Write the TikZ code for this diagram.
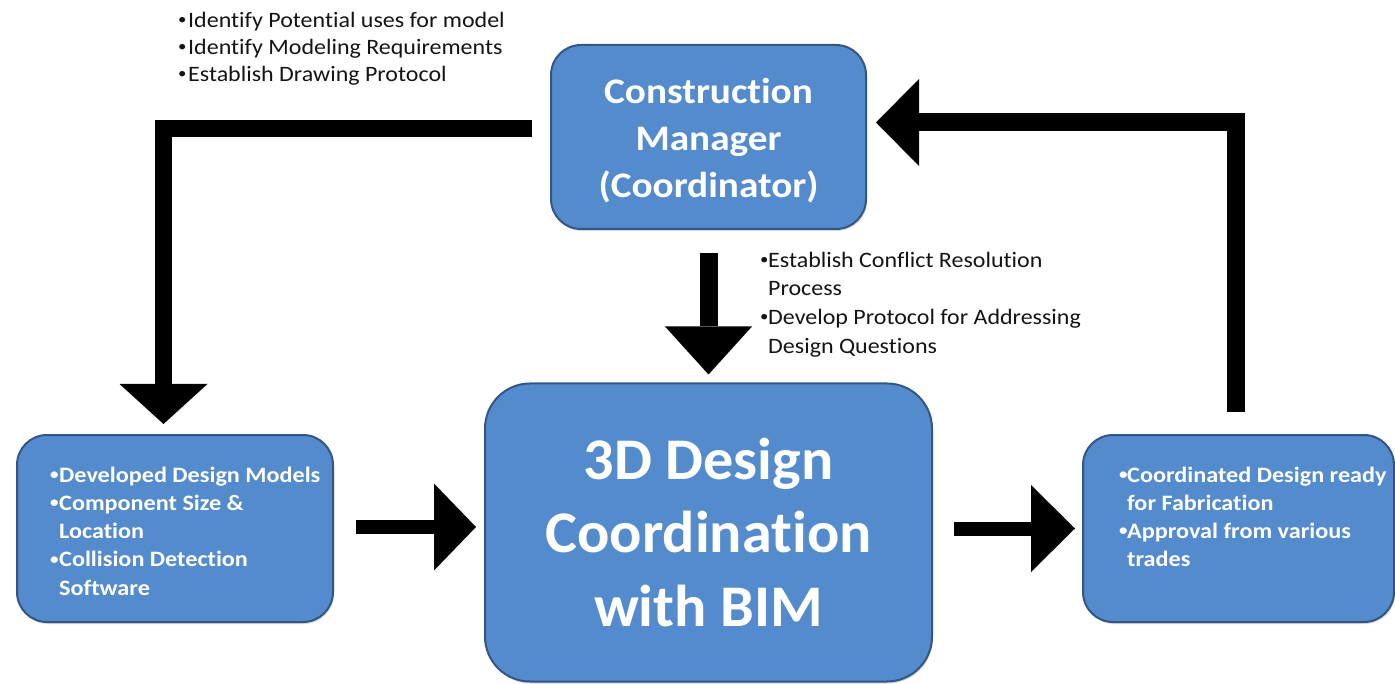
\documentclass[tikz,border=0pt]{standalone}
\usepackage{fontspec}
\setmainfont{Carlito}[Ligatures=NoCommon]
\usetikzlibrary{arrows.meta,shadows}
\definecolor{boxfill}{RGB}{84,139,205}
\definecolor{boxedge}{RGB}{50,86,134}
\definecolor{notetext}{RGB}{20,20,20}
\newcommand{\listdot}{\raisebox{0.12em}{\scalebox{0.7}{•}}}
\begin{document}
\begin{tikzpicture}[x=1pt,y=-1pt,
  stagebox/.style={draw=boxedge, line width=2pt, fill=boxfill, rounded corners=#1,
    inner sep=0pt, text=white, align=center,
    drop shadow={shadow xshift=1pt, shadow yshift=-2pt, opacity=0.3}},
  listtext/.style={anchor=north west, inner sep=0pt, align=left, text=white,
    font=\bfseries\addfontfeatures{FakeStretch=1.10}\fontsize{22}{28.2}\selectfont},
  notes/.style={anchor=north west, inner sep=0pt, align=left, text=notetext,
    font=\addfontfeatures{FakeStretch=1.09}\fontsize{22}{27}\selectfont},
  flowarrow/.style n args={3}{draw=black, line width=#1, line join=miter,
    -{Triangle[length=#2, width=#3, line width=0pt]}}
]
\useasboundingbox (0,0) rectangle (1395,684);

% stage boxes
\node[stagebox=30pt, minimum width=315pt, minimum height=184pt,
      font=\bfseries\addfontfeatures{FakeStretch=1.09}\fontsize{36}{47}\selectfont] (cm) at (708.5,137)
      {\rule{0pt}{33pt}Construction\\Manager\\(Coordinator)};
\node[stagebox=45pt, minimum width=447pt, minimum height=298pt,
      font=\bfseries\addfontfeatures{FakeStretch=1.02}\fontsize{59}{73.5}\selectfont] (bim) at (708.5,532.5)
      {3D Design\\Coordination\\with BIM};
\node[stagebox=30pt, minimum width=316pt, minimum height=187pt] (models) at (175,528.5) {};
\node[stagebox=30pt, minimum width=311pt, minimum height=187pt] (ready) at (1238.5,528.5) {};

% bullet lists inside the side boxes
\node[listtext] (modelslist) at (50,462)
  {\rule{0pt}{20pt}\makebox[9pt][l]{\listdot}Developed Design Models\\
   \makebox[9pt][l]{\listdot}Component Size \&\\
   \hspace*{9pt}Location\\
   \makebox[9pt][l]{\listdot}Collision Detection\\
   \hspace*{9pt}Software};
\node[listtext] (readylist) at (1119,462)
  {\rule{0pt}{20pt}\makebox[8pt][l]{\listdot}Coordinated Design ready\\
   \hspace*{8pt}for Fabrication\\
   \makebox[8pt][l]{\listdot}Approval from various\\
   \hspace*{8pt}trades};

% annotations
\node[notes] (setupnotes) at (178,7)
  {\rule{0pt}{20pt}\makebox[10pt][l]{\listdot}Identify Potential uses for model\\
   \makebox[10pt][l]{\listdot}Identify Modeling Requirements\\
   \makebox[10pt][l]{\listdot}Establish Drawing Protocol};
\node[notes, font=\addfontfeatures{FakeStretch=1.09}\fontsize{22}{28.7}\selectfont] (processnotes) at (760,247)
  {\rule{0pt}{20pt}\makebox[8pt][l]{\listdot}Establish Conflict Resolution\\
   \hspace*{8pt}Process\\
   \makebox[8pt][l]{\listdot}Develop Protocol for Addressing\\
   \hspace*{8pt}Design Questions};

% flow arrows
\draw[flowarrow={17pt}{40pt}{88pt}]
  ([xshift=-18pt,yshift=8.5pt]cm.west) -| ([xshift=-11.5pt,yshift=10pt]models.north);
\draw[flowarrow={18pt}{48pt}{87pt}]
  ([yshift=-23pt]cm.south) -- ([yshift=8pt]bim.north);
\draw[flowarrow={14pt}{42pt}{87pt}]
  ([xshift=22pt,yshift=1.5pt]models.east) -- ([xshift=-8pt,yshift=1.5pt]models.east -| bim.west);
\draw[flowarrow={14pt}{44pt}{87pt}]
  ([xshift=21pt]ready.west -| bim.east) -- ([xshift=-7pt]ready.west);
\draw[flowarrow={18pt}{43pt}{87pt}]
  ([xshift=-3pt,yshift=22pt]ready.north) |- ([xshift=9pt,yshift=14.5pt]cm.east);
\end{tikzpicture}
\end{document}
